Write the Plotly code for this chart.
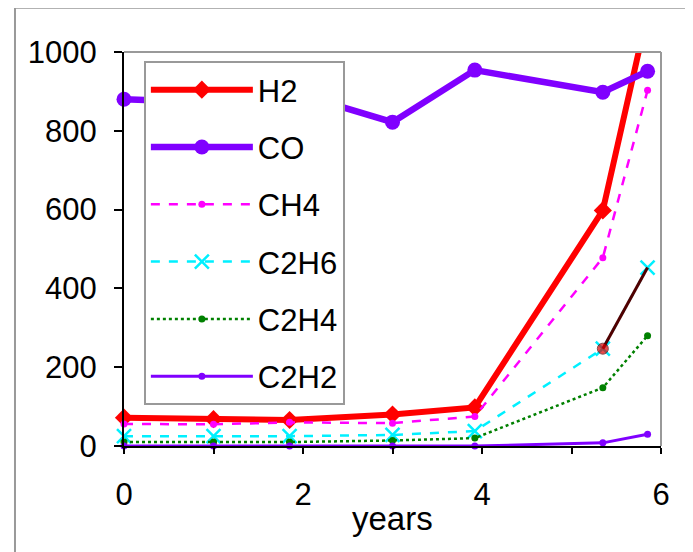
import plotly.graph_objects as go

years = [0, 1, 1.85, 3, 3.92, 5.35, 5.85]
h2 = [72, 68, 66, 80, 98, 598, 1100]
co = [880, 872, 900, 822, 954, 898, 951]
ch4 = [56, 55, 60, 58, 75, 478, 903]
c2h6 = [25, 25, 25, 28, 38, 247, 453]
c2h4 = [10, 10, 10, 14, 20, 148, 280]
c2h2 = [0, 0, 0, 0, 0, 8, 30]

FONT = "Arial, Liberation Sans, sans-serif"

fig = go.Figure()

def add(name, y, color, width, dash, symbol, size, mline=None):
    fig.add_trace(go.Scatter(
        x=years, y=y, name=name, mode="lines+markers",
        legendgroup=name, cliponaxis=False,
        line=dict(color=color, width=width, dash=dash),
        marker=dict(symbol=symbol, size=size, color=color,
                    line=dict(width=mline if mline else 0, color=color)),
    ))

add("H2", h2, "#FF0000", 6, "solid", "diamond", 14)
add("CO", co, "#8000FF", 6.5, "solid", "circle", 15)
add("CH4", ch4, "#FF00FF", 2.5, "dash", "circle", 7)
add("C2H6", c2h6, "#00F0FF", 2.5, "dash", "x-thin", 14, mline=2.5)

# last C2H6 segment drawn dark, with a red marker at its start
fig.add_trace(go.Scatter(
    x=years[-2:], y=c2h6[-2:], mode="lines+markers", showlegend=False,
    cliponaxis=False, legendgroup="C2H6",
    line=dict(color="#500000", width=3),
    marker=dict(symbol="circle", size=[11, 0], color="#E00000"),
))

add("C2H4", c2h4, "#008000", 2.5, "dot", "circle", 7)
add("C2H2", c2h2, "#8000FF", 3, "solid", "circle", 7)

fig.update_layout(
    width=685, height=544,
    margin=dict(l=116, r=32, t=44, b=106),
    paper_bgcolor="white", plot_bgcolor="white",
    font=dict(family=FONT, size=31, color="black"),
    showlegend=True,
    legend=dict(
        x=0.037, y=0.977, xanchor="left", yanchor="top",
        bgcolor="white", bordercolor="#999999", borderwidth=2,
        font=dict(family=FONT, size=31, color="black"),
        itemwidth=102, traceorder="grouped", tracegroupgap=14,
    ),
    xaxis=dict(
        range=[0, 6], tickvals=[0, 2, 4, 6], ticks="outside", ticklen=6,
        tickcolor="black", tickwidth=1.5,
        showline=True, linecolor="black", linewidth=2,
        showgrid=False, zeroline=False, ticklabelstandoff=14,
        minor=dict(tickvals=[1, 3, 5], ticks="outside", ticklen=6,
                   tickcolor="black", tickwidth=1.5, showgrid=False),
    ),
    yaxis=dict(
        range=[0, 1000], tickvals=[0, 200, 400, 600, 800, 1000],
        ticks="outside", ticklen=8, tickcolor="black", tickwidth=1.5,
        showline=True, linecolor="black", linewidth=2,
        showgrid=False, zeroline=False, ticklabelstandoff=11,
    ),
    annotations=[dict(
        text="years", xref="paper", yref="paper", x=0.5, y=-0.183,
        xanchor="center", yanchor="middle", showarrow=False,
        font=dict(family=FONT, size=33, color="black"),
    )],
    shapes=[
        dict(type="line", xref="paper", yref="paper", x0=0, x1=1, y0=1, y1=1,
             line=dict(color="#999999", width=2)),
        dict(type="line", xref="paper", yref="paper", x0=1, x1=1, y0=0, y1=1,
             line=dict(color="#999999", width=2)),
        dict(type="line", xref="paper", yref="paper", x0=-0.203, x1=-0.203,
             y0=-0.4, y1=1.112, line=dict(color="#999999", width=2)),
        dict(type="line", xref="paper", yref="paper", x0=-0.203, x1=1.2,
             y0=1.112, y1=1.112, line=dict(color="#999999", width=2)),
    ],
)

fig.write_html("out.html")
